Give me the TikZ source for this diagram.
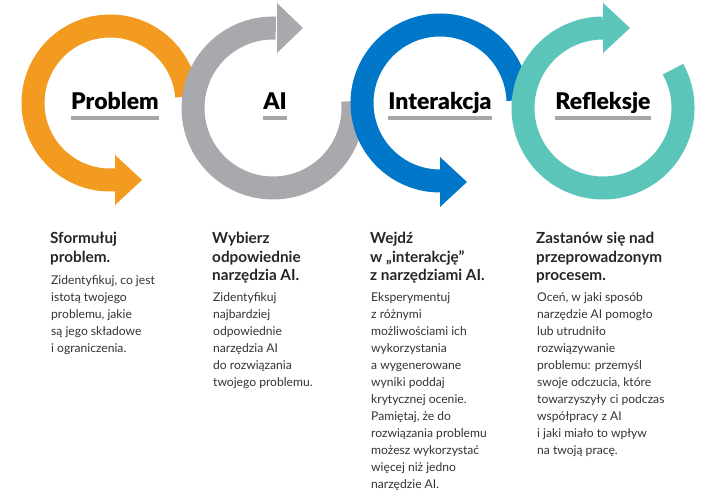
\documentclass[tikz,border=0pt]{standalone}
\usepackage{fontspec}
\setmainfont{Lato}
\newfontfamily\titlefont{Lato Black}
\begin{document}
\begin{tikzpicture}[x=1pt,y=1pt,
  ring/.style={line width=23pt},
  ttl/.style={font=\titlefont\fontsize{23}{26}\selectfont, inner sep=0pt, anchor=base},
  bar/.style={line width=4pt, draw=black!35},
  head/.style={font=\bfseries\fontsize{15.3}{18.5}\selectfont, align=left, anchor=north west, inner sep=0pt, text=black!85},
  body/.style={font=\fontsize{12.1}{17}\selectfont, align=left, anchor=north west, inner sep=0pt, text=black!80}]
\definecolor{cor}{HTML}{F39A21}
\definecolor{cgr}{HTML}{A7A9AC}
\definecolor{cbl}{HTML}{0077C8}
\definecolor{ctl}{HTML}{5BC5BA}
\useasboundingbox (0,0) rectangle (720,500);
% orange
\draw[ring,cor] (110,397) ++(5:77) arc[start angle=5,end angle=274,radius=77];
\fill[cor] (115,345) -- (142,320) -- (115,295) -- cycle;
% gray
\draw[ring,cgr] (273,392) ++(5:80) arc[start angle=5,end angle=-272,radius=80];
\fill[cgr] (277,497) -- (303,472) -- (277,447) -- cycle;
% blue
\draw[ring,cbl] (440,397) ++(2:78) arc[start angle=2,end angle=273,radius=78];
\fill[cbl] (440,343) -- (467,318) -- (440,293) -- cycle;
% teal
\draw[ring,ctl] (603,392) ++(29:80) arc[start angle=29,end angle=-270,radius=80];
\fill[ctl] (603,497) -- (630,472) -- (603,447) -- cycle;
% titles
\node[ttl] (t1) at (115,390) {Problem};
\node[ttl] (t2) at (275,390) {AI};
\node[ttl] (t3) at (440,390) {Interakcja};
\node[ttl] (t4) at (603,390) {Refleksje};
\foreach \t in {t1,t2,t3,t4} \draw[bar] ([yshift=-8pt]\t.base west) -- ([yshift=-8pt]\t.base east);
% texts
\node[head] (h1) at (50,268) {Sformułuj\\problem.};
\node[body] (b1) at (51,225) {Zidentyfikuj, co jest\\istotą twojego\\problemu, jakie\\są jego składowe\\i ograniczenia.};
\node[head] (h2) at (212,268) {Wybierz\\odpowiednie\\narzędzia AI.};
\node[body] (b2) at (213,208) {Zidentyfikuj\\najbardziej\\odpowiednie\\narzędzia AI\\do rozwiązania\\twojego problemu.};
\node[head] (h3) at (370,268) {Wejdź\\w „interakcję”\\z narzędziami AI.};
\node[body] (b3) at (371,208) {Eksperymentuj\\z różnymi\\możliwościami ich\\wykorzystania\\a wygenerowane\\wyniki poddaj\\krytycznej ocenie.\\Pamiętaj, że do\\rozwiązania problemu\\możesz wykorzystać\\więcej niż jedno\\narzędzie AI.};
\node[head] (h4) at (536,268) {Zastanów się nad\\przeprowadzonym\\procesem.};
\node[body] (b4) at (537,208) {Oceń, w jaki sposób\\narzędzie AI pomogło\\lub utrudniło\\rozwiązywanie\\problemu: przemyśl\\swoje odczucia, które\\towarzyszyły ci podczas\\współpracy z AI\\i jaki miało to wpływ\\na twoją pracę.};
\end{tikzpicture}
\end{document}
